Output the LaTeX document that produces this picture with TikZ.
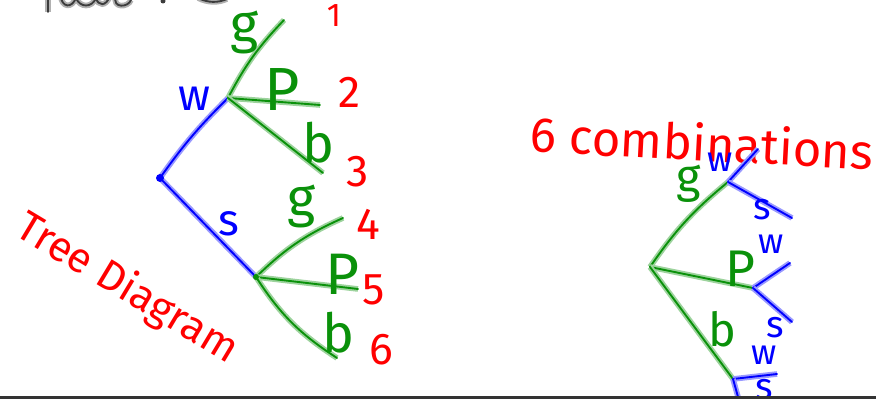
\documentclass[tikz,border=0pt]{standalone}
\usepackage{fontspec}
\setmainfont{Fira Sans}
\definecolor{inkblue}{RGB}{0,0,255}
\definecolor{inkgreen}{RGB}{10,145,10}
\definecolor{inkred}{RGB}{255,0,0}
\definecolor{inkgray}{RGB}{60,60,60}
\begin{document}
\begin{tikzpicture}[x=0.03cm, y=-0.03cm,
    pen/.style={draw=#1, line width=1.6pt, line cap=round, line join=round,
        preaction={draw=#1!40!white, line width=4.8pt}},
    hand/.style={inner sep=0pt, font=\fontsize{#1}{#1}\selectfont},
    wlbl/.style={hand=38, text=inkblue},
    glbl/.style={hand=46, text=inkgreen},
    num/.style={hand=38, text=inkred}
]
\useasboundingbox (0,0) rectangle (876,399);
\clip (0,0) rectangle (876,399);

\draw[pen=inkgray] (48,-6) -- (48,12);
\draw[pen=inkgray] (60,-6) .. controls (62,9) and (72,8) .. (76,-2)
    .. controls (80,8) and (92,8) .. (96,-2) .. controls (98,6) and (106,7) .. (110,-4);
\draw[pen=inkgray] (116,-3) .. controls (112,8) and (128,8) .. (131,0);
\fill[inkgray] (163,1) circle (2.5);
\draw[pen=inkgray] (198,-2) .. controls (208,3) and (218,3) .. (227,-1);

\coordinate (root) at (160,178);
\coordinate (w) at (228,98);
\coordinate (s) at (256,277);
\coordinate (wg) at (284,20);
\coordinate (wp) at (320,105);
\coordinate (wb) at (323,173);
\coordinate (sg) at (343,218);
\coordinate (sp) at (358,289);
\coordinate (sb) at (337,358);

\draw[pen=inkblue] (root) to[bend left=5] (w);
\draw[pen=inkblue] (root) -- (s);
\fill[inkblue] (root) circle (4);
\draw[pen=inkgreen] (w) to[bend left=8] (wg);
\draw[pen=inkgreen] (w) -- (wp);
\draw[pen=inkgreen] (w) -- (wb);
\draw[pen=inkgreen] (s) to[bend left=10] (sg);
\draw[pen=inkgreen] (s) -- (sp);
\draw[pen=inkgreen] (s) to[bend right=12] (sb);
\fill[inkgreen] (s) circle (3);

\node[wlbl] (lw) at (194,99) {w};
\node[wlbl] (ls) at (229,224) {s};
\node[glbl] (lwg) at (245,32) {g};
\node[glbl, hand=52] (lwp) at (282,90) {P};
\node[glbl] (lwb) at (319,143) {b};
\node[glbl] (lsg) at (302,206) {g};
\node[glbl, hand=50] (lsp) at (343,274) {P};
\node[glbl] (lsb) at (339,333) {b};

\node[num, hand=28] (n1) at (334,16) {1};
\node[num] (n2) at (350,92) {2};
\node[num] (n3) at (358,172) {3};
\node[num] (n4) at (368,224) {4};
\node[num] (n5) at (374,290) {5};
\node[num] (n6) at (381,350) {6};

\node[hand=36, text=inkred, rotate=-31] (title) at (127,289) {Tree Diagram};
\node[hand=42, text=inkred, rotate=-3] (total) at (702,142) {6 combinations};

\coordinate (r) at (650,267);
\coordinate (rg) at (728,182);
\coordinate (rp) at (753,288);
\coordinate (rb) at (733,379);
\coordinate (rgw) at (758,149);
\coordinate (rgs) at (792,218);
\coordinate (rpw) at (790,263);
\coordinate (rps) at (792,322);
\coordinate (rbw) at (777,374);
\coordinate (rbs) at (740,404);

\draw[pen=inkgreen] (r) to[bend left=8] (rg);
\draw[pen=inkgreen] (r) -- (rp);
\draw[pen=inkgreen] (r) -- (rb);
\draw[pen=inkblue] (rg) -- (rgw);
\draw[pen=inkblue] (rg) -- (rgs);
\draw[pen=inkblue] (rp) -- (rpw);
\draw[pen=inkblue] (rp) -- (rps);
\draw[pen=inkblue] (rb) -- (rbw);
\draw[pen=inkblue] (rb) -- (rbs);

\node[glbl, hand=40] (lrg) at (689,184) {g};
\node[glbl, hand=44] (lrp) at (740,269) {P};
\node[glbl, hand=40] (lrb) at (722,329) {b};
\node[wlbl, hand=30] (lrgw) at (720,162) {w};
\node[wlbl, hand=32] (lrgs) at (762,210) {s};
\node[wlbl, hand=30] (lrpw) at (771,244) {w};
\node[wlbl, hand=32] (lrps) at (775,328) {s};
\node[wlbl, hand=30] (lrbw) at (764,355) {w};
\node[wlbl, hand=32] (lrbs) at (764,390) {s};

\fill[black!80] (0,395.5) rectangle (876,399);
\end{tikzpicture}
\end{document}
